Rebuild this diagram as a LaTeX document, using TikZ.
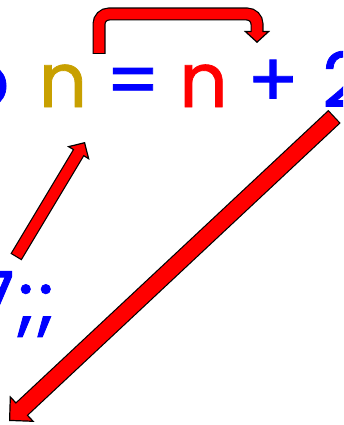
\documentclass[tikz,border=0pt]{standalone}
\usepackage{fontspec}
\usetikzlibrary{arrows.meta}
\newfontfamily\slidefont[FakeBold=1]{Poppins}
\definecolor{slideblue}{HTML}{0000FF}
\definecolor{slidered}{HTML}{FF0000}
\definecolor{slidegold}{HTML}{C8A000}

\begin{document}
\begin{tikzpicture}[x=1pt, y=-1pt,
  glyph/.style={inner sep=0pt, anchor=base, font=\slidefont\fontsize{76}{80}\selectfont},
  outer/.style n args={3}{draw=black, line width=#1, -{Triangle[length=#3, width=#2, line width=1.2pt, fill=slidered]}},
  inner/.style n args={2}{draw=slidered, line width=#1, shorten <=1.2pt, shorten >=#2}
]
  \useasboundingbox (0,0) rectangle (343,425);
  \clip (0,0) rectangle (343,425);

  % code line, top
  \node[glyph, text=slideblue] (o)     at (-15,107)   {o};
  \node[glyph, text=slidegold] (nGold) at (63,107)    {n};
  \node[glyph, text=slideblue] (eq)    at (133,107)   {=};
  \node[glyph, text=slidered]  (nRed)  at (203.5,107) {n};
  \node[glyph, text=slideblue] (plus)  at (273,107)   {+};
  \node[glyph, text=slideblue] (two)   at (344,107)   {2};

  % code line, below
  \node[glyph, text=slideblue] (seven) at (-6,326) {7};
  \node[glyph, text=slideblue] (semiA) at (26,326) {;};
  \node[glyph, text=slideblue] (semiB) at (46,326) {;};

  \coordinate (bendTail) at (99,54);
  \coordinate (bendLeft) at (99,14);
  \coordinate (bendRight) at (257,14);
  \coordinate (bendTip) at (257,43);
  \coordinate (upTail) at (16,257);
  \coordinate (upTip) at (85,142);
  \coordinate (downTail) at (334.5,116.5);
  \coordinate (downTip) at (9,421);

  % block arrows: black body first, red core on top
  \draw[outer={13pt}{26pt}{12pt}, rounded corners=10pt] (bendTail) -- (bendLeft) -- (bendRight) -- (bendTip);
  \draw[inner={10.6pt}{9pt}, rounded corners=10pt] (bendTail) -- (bendLeft) -- (bendRight) -- (bendTip);

  \draw[outer={13pt}{26pt}{13pt}] (upTail) -- (upTip);
  \draw[inner={10.6pt}{10pt}] (upTail) -- (upTip);

  \draw[outer={18pt}{36pt}{18pt}] (downTail) -- (downTip);
  \draw[inner={15.6pt}{15pt}] (downTail) -- (downTip);
\end{tikzpicture}
\end{document}
